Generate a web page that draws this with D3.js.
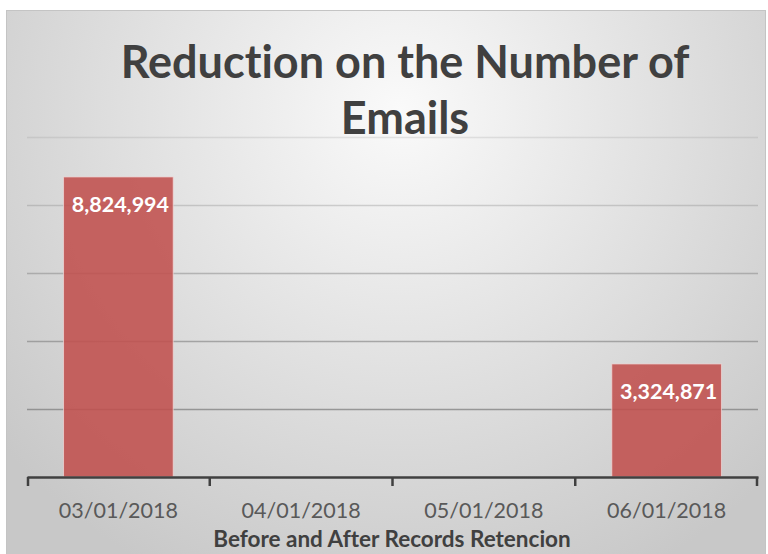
<!DOCTYPE html>
<html>
<head>
<meta charset="utf-8">
<script src="https://cdn.jsdelivr.net/npm/d3@7"></script>
<style>
  body { margin: 0; background: #fff; }
  svg { display: block; font-family: Lato, "Open Sans", sans-serif; font-variant-ligatures: none; }
</style>
</head>
<body>
<div id="chart"></div>
<script>
// Data
const dates = ["03/01/2018", "04/01/2018", "05/01/2018", "06/01/2018"];
const emails = [8824994, null, null, 3324871];
const gridValues = [2000000, 4000000, 6000000, 8000000, 10000000];

const W = 768, H = 554;
const margin = { top: 137, right: 10, bottom: 77, left: 27 };
const plotW = 758 - margin.left, plotH = 477 - margin.top;

const svg = d3.select("#chart").append("svg")
  .attr("width", W)
  .attr("height", H);

// Background gradient of the chart area
const defs = svg.append("defs");
const grad = defs.append("radialGradient")
  .attr("id", "bg")
  .attr("gradientUnits", "userSpaceOnUse")
  .attr("cx", 400).attr("cy", 110).attr("r", 520);
grad.append("stop").attr("offset", "0%").attr("stop-color", "#fafafa");
grad.append("stop").attr("offset", "100%").attr("stop-color", "#c8c8c8");

svg.append("rect")
  .attr("x", 6.5).attr("y", 10.5)
  .attr("width", 759).attr("height", 550)
  .attr("fill", "url(#bg)")
  .attr("stroke", "#c4c4c4")
  .attr("stroke-width", 1);

const g = svg.append("g")
  .attr("transform", `translate(${margin.left},${margin.top})`);

const x = d3.scaleBand()
  .domain(dates)
  .range([0, plotW])
  .paddingInner(0.4)
  .paddingOuter(0.2);

const y = d3.scaleLinear()
  .domain([0, 10000000])
  .range([plotH, 0]);

// gridlines fade out towards the top
const gridOpacity = d3.scaleLinear().domain([2000000, 10000000]).range([0.75, 0.18]);

g.selectAll(".grid")
  .data(gridValues)
  .enter()
  .append("line")
  .attr("class", "grid")
  .attr("x1", 0).attr("x2", plotW)
  .attr("y1", d => Math.round(y(d)) + 0.5)
  .attr("y2", d => Math.round(y(d)) + 0.5)
  .attr("stroke", "#7f7f7f")
  .attr("stroke-opacity", d => gridOpacity(d))
  .attr("stroke-width", 1.3);

// Bars
const barData = dates.map((d, i) => ({ date: d, value: emails[i] }))
  .filter(d => d.value != null);

g.selectAll(".bar")
  .data(barData)
  .enter()
  .append("rect")
  .attr("class", "bar")
  .attr("x", d => x(d.date))
  .attr("y", d => y(d.value))
  .attr("width", x.bandwidth())
  .attr("height", d => plotH - y(d.value))
  .attr("fill", "#c0504d")
  .attr("fill-opacity", 0.88)
  .attr("stroke", "#f2dcdb")
  .attr("stroke-opacity", 0.7)
  .attr("stroke-width", 1);

// Data labels
g.selectAll(".label")
  .data(barData)
  .enter()
  .append("text")
  .attr("class", "label")
  .attr("x", d => x(d.date) + x.bandwidth() / 2 + 2)
  .attr("y", d => y(d.value) + 35)
  .attr("text-anchor", "middle")
  .attr("fill", "#ffffff")
  .attr("font-weight", "bold")
  .attr("font-size", 21.5)
  .text(d => d3.format(",")(d.value));

// X axis
const xAxis = g.append("g")
  .attr("transform", `translate(0,${plotH})`)
  .call(d3.axisBottom(x).tickSize(0).tickPadding(26));

xAxis.select(".domain")
  .attr("stroke", "#404040")
  .attr("stroke-width", 2.5);
xAxis.selectAll("text")
  .attr("font-family", "Lato, sans-serif")
  .attr("font-size", 21.5)
  .attr("fill", "#595959");

// Tick marks at the category boundaries
g.selectAll(".tick-mark")
  .data(d3.range(dates.length + 1))
  .enter()
  .append("line")
  .attr("class", "tick-mark")
  .attr("x1", i => i === 0 ? 1 : (i === dates.length ? plotW - 1 : x(dates[i]) - x.step() * x.paddingInner() / 2))
  .attr("x2", i => i === 0 ? 1 : (i === dates.length ? plotW - 1 : x(dates[i]) - x.step() * x.paddingInner() / 2))
  .attr("y1", plotH)
  .attr("y2", plotH + 9)
  .attr("stroke", "#404040")
  .attr("stroke-width", 2.5);

// Axis title
svg.append("text")
  .attr("x", 392)
  .attr("y", 547)
  .attr("text-anchor", "middle")
  .attr("font-weight", "bold")
  .attr("font-size", 22.5)
  .attr("fill", "#404040")
  .text("Before and After Records Retencion");

// Chart title
const title = svg.append("text")
  .attr("text-anchor", "middle")
  .attr("font-weight", "bold")
  .attr("font-size", 45)
  .attr("fill", "#404040");
title.append("tspan").attr("x", 405).attr("y", 78).text("Reduction on the Number of");
title.append("tspan").attr("x", 405).attr("y", 134).text("Emails");
</script>
</body>
</html>
